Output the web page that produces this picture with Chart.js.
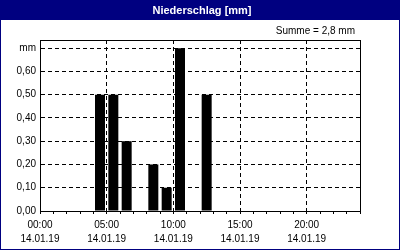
<!DOCTYPE html>
<html>
<head>
<meta charset="utf-8">
<script src="https://cdn.jsdelivr.net/npm/chart.js@4/dist/chart.umd.min.js"></script>
<style>
  html, body { margin: 0; padding: 0; background: #fff; }
  #chart { display: block; }
</style>
</head>
<body>
<canvas id="chart" width="400" height="250"></canvas>
<script>
  const titleText = 'Niederschlag [mm]';
  const sumText = 'Summe = 2,8 mm';
  const dateLabel = '14.01.19';
  const timeTicks = ['00:00', '05:00', '10:00', '15:00', '20:00'];
  const hours = [0, 1, 2, 3, 4, 5, 6, 7, 8, 9, 10, 11, 12, 13, 14, 15, 16, 17, 18, 19, 20, 21, 22, 23];
  const precip = [0, 0, 0, 0, 0.5, 0.5, 0.3, 0, 0.2, 0.1, 0.7, 0, 0.5, 0, 0, 0, 0, 0, 0, 0, 0, 0, 0, 0];
  const yUnitLabel = 'mm';

  const NAVY = '#000080';
  const FONT = 'Liberation Sans, Arial, sans-serif';

  const framePlugin = {
    id: 'frame',
    beforeDraw(chart) {
      const { ctx, width, height } = chart;
      ctx.save();
      ctx.fillStyle = '#ffffff';
      ctx.fillRect(0, 0, width, height);
      ctx.fillStyle = NAVY;
      ctx.fillRect(0, 0, width, 20);
      ctx.strokeStyle = NAVY;
      ctx.lineWidth = 1;
      ctx.strokeRect(0.5, 0.5, width - 1, height - 1);
      ctx.fillStyle = '#ffffff';
      ctx.font = 'bold 11px ' + FONT;
      ctx.textAlign = 'center';
      ctx.textBaseline = 'middle';
      ctx.fillText(titleText, 202, 10.5);
      ctx.fillStyle = '#000000';
      ctx.font = '10px ' + FONT;
      ctx.textAlign = 'right';
      ctx.fillText(sumText, 355, 31);
      ctx.restore();
    },
    afterDraw(chart) {
      const { ctx, chartArea: a } = chart;
      ctx.save();
      ctx.strokeStyle = '#000000';
      ctx.lineWidth = 1;
      ctx.strokeRect(a.left + 0.5, a.top + 0.5, a.right - a.left, a.bottom - a.top);
      ctx.restore();
    }
  };

  new Chart(document.getElementById('chart'), {
    type: 'bar',
    data: {
      datasets: [{
        label: 'Niederschlag',
        data: hours.map((h, i) => ({ x: h + 0.5, y: precip[i] })),
        backgroundColor: '#000000',
        borderWidth: 0,
        barPercentage: 0.75,
        categoryPercentage: 1
      }]
    },
    options: {
      responsive: false,
      animation: false,
      layout: { padding: { top: 40, right: 40, left: 0, bottom: 0 } },
      plugins: {
        legend: { display: false },
        tooltip: { enabled: false }
      },
      scales: {
        x: {
          type: 'linear',
          min: 0,
          max: 24,
          offset: false,
          afterFit(scale) { scale.height = 39; },
          ticks: {
            stepSize: 1,
            autoSkip: false,
            maxRotation: 0,
            includeBounds: false,
            padding: 4,
            color: '#000000',
            font: { family: FONT, size: 10, lineHeight: '14px' },
            callback(value) {
              if (value % 5 !== 0 || value >= 24) return '';
              return [timeTicks[value / 5], dateLabel];
            }
          },
          grid: {
            offset: false,
            color: ctx => (ctx.tick && ctx.tick.value % 5 === 0 ? '#000000' : 'transparent'),
            tickColor: '#000000',
            tickLength: 3
          },
          border: { color: '#000000', dash: [4, 3] }
        },
        y: {
          min: 0,
          max: 0.735,
          afterFit(scale) { scale.width = 40; },
          ticks: {
            stepSize: 0.1,
            includeBounds: false,
            padding: 4,
            color: '#000000',
            font: { family: FONT, size: 10 },
            callback(value) {
              const v = Math.round(value * 100);
              if (v === 70) return yUnitLabel;
              return (v / 100).toFixed(2).replace('.', ',');
            }
          },
          grid: {
            drawTicks: false,
            color: ctx => (ctx.tick && ctx.tick.value > 0.001 ? '#000000' : 'transparent')
          },
          border: { color: '#000000', dash: [4, 3] }
        }
      }
    },
    plugins: [framePlugin]
  });
</script>
</body>
</html>
